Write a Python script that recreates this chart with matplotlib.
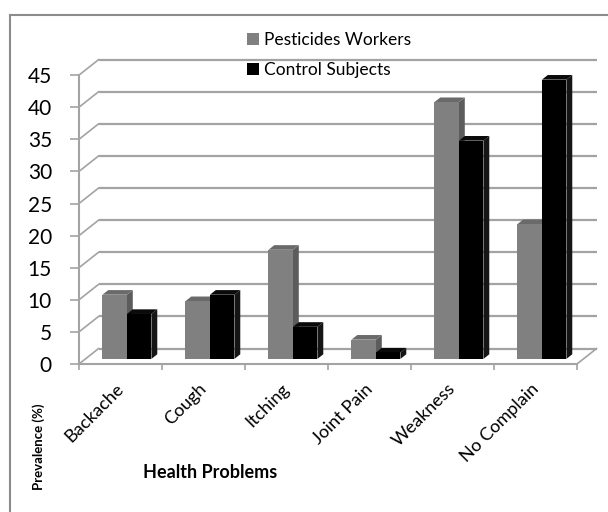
import matplotlib
matplotlib.use("Agg")
import matplotlib.pyplot as plt
from matplotlib.patches import Polygon, Patch
from matplotlib.lines import Line2D
from matplotlib.transforms import ScaledTranslation

# data
categories = ["Backache", "Cough", "Itching", "Joint Pain", "Weakness", "No Complain"]
pesticide_workers = [10, 9, 17, 3, 40, 21]
control_subjects = [7, 10, 5, 1, 34, 43.5]
y_ticks = [0, 5, 10, 15, 20, 25, 30, 35, 40, 45]
series_names = ["Pesticides Workers", "Control Subjects"]

plt.rcParams['font.family'] = ['Lato', 'DejaVu Sans']

W, H = 608, 512
fig = plt.figure(figsize=(W / 100, H / 100), dpi=100)

# pixel geometry of the front plane (pixels per unit)
PX, PY = 83.0, 6.42
X0, Y0 = 79, 364
XMAX, YMAX = 6.35, 48.5
ax = fig.add_axes([X0 / W, (H - Y0) / H, XMAX * PX / W, YMAX * PY / H])
ax.set_xlim(0, XMAX)
ax.set_ylim(0, YMAX)
ax.patch.set_alpha(0)

# fake 3D: depth of the floor / back wall in data units
DX, DY = 0.235, 2.4
F = 0.33      # where the bars stand in the depth
BD = 0.3      # bar depth
BW = 0.295    # bar width
GRID = '#a3a3a3'
n = len(categories)

# back wall and left wall grid lines
for v in y_ticks:
    ax.plot([DX, n + DX], [v + DY, v + DY], color=GRID, lw=1.6, zorder=1,
            solid_capstyle='butt')
    ax.plot([0, DX], [v, v + DY], color=GRID, lw=1.2, zorder=1)
# floor right edge
ax.plot([n, n + DX], [0, DY], color=GRID, lw=1.2, zorder=1)

z = [3]


def draw_bar(x, h, front, side, top):
    x0 = x + F * DX
    y0 = F * DY
    bx, by = BD * DX, BD * DY
    zz = z[0]
    ax.add_patch(Polygon([(x0 + BW, y0), (x0 + BW + bx, y0 + by),
                          (x0 + BW + bx, y0 + h + by), (x0 + BW, y0 + h)],
                         closed=True, facecolor=side, edgecolor='none', zorder=zz))
    ax.add_patch(Polygon([(x0, y0 + h), (x0 + bx, y0 + h + by),
                          (x0 + BW + bx, y0 + h + by), (x0 + BW, y0 + h)],
                         closed=True, facecolor=top, edgecolor='none', zorder=zz))
    ax.bar(x0, h, width=BW, bottom=y0, align='edge', color=front,
           linewidth=0, zorder=zz + 0.5)
    z[0] += 1


for i in range(n):
    cx = i + 0.5
    draw_bar(cx - BW, pesticide_workers[i], '#808080', '#5c5c5c', '#6a6a6a')
    draw_bar(cx, control_subjects[i], '#000000', '#151515', '#0a0a0a')

# axes lines and ticks
for s in ['top', 'right']:
    ax.spines[s].set_visible(False)
ax.spines['left'].set_bounds(0, 45)
ax.spines['bottom'].set_bounds(0, n)
for s in ['left', 'bottom']:
    ax.spines[s].set_color(GRID)
    ax.spines[s].set_linewidth(1.5)
    ax.spines[s].set_zorder(2)

ax.set_yticks(y_ticks)
ax.set_yticklabels([str(v) for v in y_ticks])
ax.tick_params(axis='y', direction='out', length=6.5, width=1.2, color=GRID,
               labelsize=15, pad=13)
ax.set_xticks(range(n + 1))
ax.set_xticklabels([])
ax.tick_params(axis='x', which='major', direction='out', length=4.5, width=1.2,
               color=GRID)
ax.set_xticks([i + 0.5 for i in range(n)], minor=True)
ax.set_xticklabels(categories, minor=True, rotation=45, ha='right',
                   rotation_mode='anchor', fontsize=13)
ax.tick_params(axis='x', which='minor', length=0, pad=12)
shift = ScaledTranslation(-5 / 100, 0, fig.dpi_scale_trans)
for lab in ax.get_xticklabels(minor=True):
    lab.set_transform(lab.get_transform() + shift)

# axis titles (as placed in the original)
fig.text(210 / W, 1 - 473 / H, "Health Problems", fontsize=13, fontweight='bold',
         ha='center', va='center')
fig.text(39 / W, 1 - 447 / H, "Prevalence (%)", fontsize=9.5, fontweight='bold',
         rotation=90, ha='center', va='center')

# legend
handles = [Patch(facecolor='#808080'), Patch(facecolor='#000000')]
fig.legend(handles, series_names, loc='upper left',
           bbox_to_anchor=(247 / W, 1 - 32 / H), frameon=False, fontsize=12.5,
           handlelength=0.7, handleheight=0.7, handletextpad=0.3,
           labelspacing=0.8, borderpad=0, borderaxespad=0)

# outer chart border
fig.add_artist(Line2D([10 / W, 10 / W], [1 - 15 / H, 0], color='#8c8c8c', lw=1.5))
fig.add_artist(Line2D([10 / W, 1], [1 - 15 / H, 1 - 15 / H], color='#8c8c8c', lw=1.5))

fig.savefig("out.png", dpi=100)
